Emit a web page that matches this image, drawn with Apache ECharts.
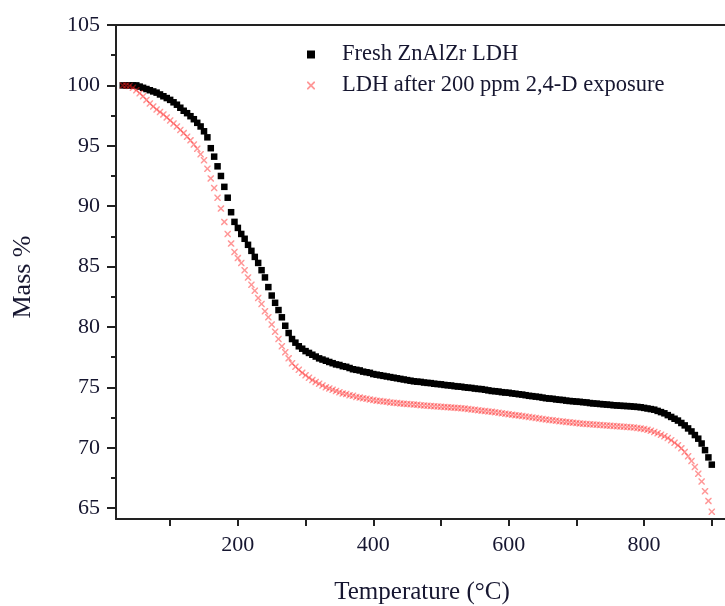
<!DOCTYPE html>
<html>
<head>
<meta charset="utf-8">
<script src="https://cdn.jsdelivr.net/npm/echarts@6/dist/echarts.min.js"></script>
<style>html,body{margin:0;padding:0;background:#fff}#c{width:725px;height:606px}</style>
</head>
<body>
<div id="c"></div>
<script>
var temps = [30,35,40,45,50,55,60,65,70,75,80,85,90,95,100,105,110,115,120,125,130,135,140,145,150,155,160,165,170,175,180,185,190,195,200,205,210,215,220,225,230,235,240,245,250,255,260,265,270,275,280,285,290,295,300,305,310,315,320,325,330,335,340,345,350,355,360,365,370,375,380,385,390,395,400,405,410,415,420,425,430,435,440,445,450,455,460,465,470,475,480,485,490,495,500,505,510,515,520,525,530,535,540,545,550,555,560,565,570,575,580,585,590,595,600,605,610,615,620,625,630,635,640,645,650,655,660,665,670,675,680,685,690,695,700,705,710,715,720,725,730,735,740,745,750,755,760,765,770,775,780,785,790,795,800,805,810,815,820,825,830,835,840,845,850,855,860,865,870,875,880,885,890,895,900];

var freshMass = [100.0,100.0,100.0,100.0,100.0,99.9,99.8,99.7,99.6,99.5,99.4,99.25,99.1,98.95,98.8,98.6,98.4,98.15,97.9,97.7,97.45,97.2,96.9,96.6,96.2,95.7,94.8,94.1,93.3,92.5,91.6,90.7,89.5,88.7,88.2,87.7,87.3,86.8,86.3,85.8,85.3,84.7,84.1,83.3,82.6,82.0,81.4,80.8,80.1,79.5,79.0,78.7,78.4,78.2,78.0,77.85,77.7,77.55,77.4,77.3,77.2,77.1,77.0,76.9,76.85,76.75,76.7,76.6,76.5,76.45,76.4,76.3,76.25,76.2,76.1,76.05,76.0,75.95,75.9,75.85,75.8,75.75,75.7,75.65,75.6,75.55,75.5,75.47,75.45,75.4,75.37,75.35,75.3,75.27,75.25,75.2,75.17,75.15,75.1,75.07,75.05,75.0,74.97,74.95,74.9,74.87,74.85,74.8,74.75,74.7,74.68,74.65,74.6,74.57,74.55,74.5,74.47,74.43,74.4,74.35,74.3,74.27,74.23,74.2,74.15,74.1,74.07,74.05,74.0,73.97,73.95,73.9,73.87,73.85,73.82,73.8,73.77,73.75,73.7,73.67,73.65,73.62,73.6,73.57,73.55,73.52,73.5,73.48,73.46,73.45,73.43,73.4,73.38,73.35,73.3,73.25,73.2,73.15,73.05,72.95,72.85,72.7,72.55,72.4,72.25,72.05,71.85,71.6,71.35,71.05,70.75,70.35,69.8,69.2,68.6];

var exposedMass = [100.0,100.0,99.95,99.8,99.6,99.35,99.1,98.8,98.5,98.25,98.0,97.8,97.6,97.35,97.1,96.85,96.6,96.3,96.05,95.75,95.45,95.1,94.75,94.3,93.8,93.1,92.3,91.5,90.7,89.8,88.7,87.7,86.9,86.2,85.7,85.3,84.7,84.1,83.5,83.0,82.4,81.9,81.3,80.8,80.2,79.6,79.0,78.4,77.9,77.4,77.0,76.7,76.45,76.2,76.0,75.8,75.6,75.45,75.3,75.15,75.0,74.9,74.8,74.7,74.6,74.5,74.45,74.35,74.3,74.2,74.15,74.1,74.05,74.0,73.95,73.9,73.87,73.83,73.8,73.75,73.72,73.7,73.67,73.65,73.62,73.6,73.57,73.55,73.52,73.5,73.48,73.46,73.44,73.42,73.4,73.38,73.36,73.34,73.32,73.3,73.27,73.24,73.2,73.17,73.14,73.1,73.07,73.04,73.0,72.97,72.94,72.9,72.86,72.82,72.78,72.74,72.7,72.66,72.62,72.58,72.54,72.5,72.46,72.42,72.38,72.34,72.3,72.27,72.24,72.2,72.17,72.14,72.1,72.07,72.04,72.0,71.98,71.96,71.94,71.92,71.9,71.88,71.86,71.84,71.82,71.8,71.78,71.76,71.74,71.72,71.7,71.67,71.64,71.6,71.55,71.48,71.4,71.3,71.2,71.08,70.95,70.8,70.62,70.42,70.2,69.95,69.65,69.3,68.9,68.4,67.85,67.2,66.4,65.6,64.7];

var seriesNames = ['Fresh ZnAlZr LDH', 'LDH after 200 ppm 2,4-D exposure'];
var xTickValues = [100,200,300,400,500,600,700,800,900];
var xLabelValues = [200,400,600,800];
var yLabelValues = [65,70,75,80,85,90,95,100,105];
var yMinorValues = [67.5,72.5,77.5,82.5,87.5,92.5,97.5,102.5];
var xTitle = 'Temperature (°C)';
var yTitle = 'Mass %';

function pairs(xs, ys){ return xs.map(function(x,i){ return [x, ys[i]]; }); }

var crossPath = 'path://M0,0 L1.6,0 L5,3.4 L8.4,0 L10,0 L10,1.6 L6.6,5 L10,8.4 L10,10 L8.4,10 L5,6.6 L1.6,10 L0,10 L0,8.4 L3.4,5 L0,1.6 Z';
var serif = '"Liberation Serif", "DejaVu Serif", serif';
var X0 = 20, X1 = 919.5, Y0 = 64.1, Y1 = 105;
var textColor = '#161630';
var redColor = 'rgba(255,30,30,0.58)';

var chart = echarts.init(document.getElementById('c'), null, {renderer:'canvas'});
chart.setOption({
  animation: false,
  backgroundColor: '#ffffff',
  grid: { left: 116, top: 25, right: 0, bottom: 87, containLabel: false },
  legend: {
    orient: 'vertical', left: 302, top: 38, itemGap: 8,
    itemWidth: 8, itemHeight: 8,
    textStyle: { fontFamily: serif, fontSize: 22.5, lineHeight: 23, color: textColor, padding: [0,0,0,22] },
    data: [
      { name: seriesNames[0], icon: 'rect', itemStyle: { color: '#000' } },
      { name: seriesNames[1], icon: crossPath, itemStyle: { color: redColor } }
    ]
  },
  xAxis: [{
    type: 'value', min: X0, max: X1, position: 'bottom',
    axisLine: { show: true, onZero: false, lineStyle: { color: '#222', width: 2 } },
    axisTick: { show: true, inside: false, length: 7, customValues: xTickValues, lineStyle: { color: '#222', width: 2 } },
    axisLabel: { show: true, customValues: xLabelValues, margin: 15, fontFamily: serif, fontSize: 22, color: textColor },
    splitLine: { show: false }
  }, {
    type: 'value', min: X0, max: X1, position: 'top',
    axisLine: { show: true, onZero: false, lineStyle: { color: '#222', width: 2 } },
    axisTick: { show: false }, axisLabel: { show: false }, splitLine: { show: false }
  }],
  yAxis: [{
    type: 'value', min: Y0, max: Y1, position: 'left',
    axisLine: { show: true, onZero: false, lineStyle: { color: '#222', width: 2 } },
    axisTick: { show: true, inside: false, length: 9, customValues: yLabelValues, lineStyle: { color: '#222', width: 2 } },
    axisLabel: { show: true, customValues: yLabelValues, margin: 16, fontFamily: serif, fontSize: 22, color: textColor },
    splitLine: { show: false }
  }, {
    type: 'value', min: Y0, max: Y1, position: 'left',
    axisLine: { show: false },
    axisTick: { show: true, inside: false, length: 5, customValues: yMinorValues, lineStyle: { color: '#222', width: 2 } },
    axisLabel: { show: false }, splitLine: { show: false }
  }],
  graphic: [
    { type: 'text', x: 422, y: 592, style: { text: xTitle, font: '25px ' + serif, fill: textColor, align: 'center', verticalAlign: 'middle' } },
    { type: 'text', x: 23, y: 277, rotation: Math.PI/2, style: { text: yTitle, font: '26px ' + serif, fill: textColor, align: 'center', verticalAlign: 'middle' } }
  ],
  series: [{
    name: seriesNames[0], type: 'scatter', xAxisIndex: 0, yAxisIndex: 0,
    symbol: 'rect', symbolSize: 6.5,
    itemStyle: { color: '#000', opacity: 1 },
    data: pairs(temps, freshMass)
  }, {
    name: seriesNames[1], type: 'scatter', xAxisIndex: 0, yAxisIndex: 0,
    symbol: crossPath, symbolSize: 6.5,
    itemStyle: { color: redColor },
    data: pairs(temps, exposedMass)
  }]
});
</script>
</body>
</html>
